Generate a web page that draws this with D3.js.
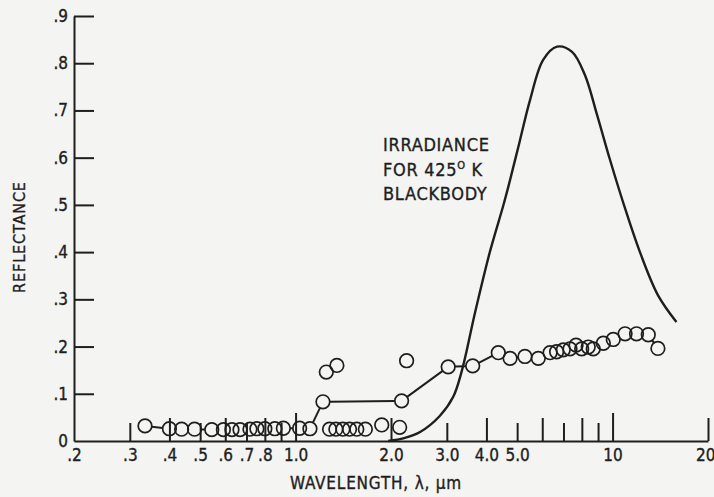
<!DOCTYPE html>
<meta charset="utf-8">
<style>
body { margin: 0; background: #f4f4f2; }
svg { display: block; }
text { font-family: "DejaVu Sans Condensed", "DejaVu Sans", sans-serif; font-stretch: condensed; fill: #1e1e1e; stroke: #1e1e1e; stroke-width: 0.35px; }
.axis path, .axis line { stroke: #1e1e1e; stroke-width: 2; }
</style>
<body>
<div id="chart"></div>
<script src="https://d3js.org/d3.v7.min.js"></script>
<script>
// reflectance, connected series (wavelength in um)
var mainWave = [0.335, 0.40, 0.437, 0.48, 0.544, 0.592, 0.63, 0.668, 0.718, 0.755, 0.80, 0.86, 0.915, 1.03, 1.11,
  1.22, 2.16, 3.03, 3.62, 4.36, 4.75, 5.29, 5.83, 6.35, 6.66, 6.99, 7.34, 7.67, 7.99, 8.38, 8.69, 9.35, 10.05,
  10.95, 11.9, 12.96, 13.9];
var mainRefl = [0.032, 0.026, 0.025, 0.025, 0.024, 0.024, 0.024, 0.024, 0.025, 0.026, 0.026, 0.026, 0.027, 0.027, 0.026,
  0.083, 0.085, 0.157, 0.159, 0.187, 0.175, 0.179, 0.175, 0.187, 0.189, 0.193, 0.195, 0.203, 0.195, 0.199, 0.195, 0.207, 0.215,
  0.227, 0.227, 0.225, 0.196];

// loose points, not joined
var looseWave = [1.28, 1.34, 1.41, 1.48, 1.56, 1.66, 1.87, 2.13, 1.25, 1.35, 2.24];
var looseRefl = [0.025, 0.025, 0.025, 0.025, 0.025, 0.025, 0.034, 0.029, 0.146, 0.160, 0.170];

// 425 K blackbody irradiance curve
var bbWave = [1.96, 2.2, 2.47, 2.85, 3.14, 3.35, 3.68, 4.1, 4.51, 4.68, 5.1, 5.49, 6.04, 6.68, 7.45, 8.18, 8.93, 9.82, 10.86, 12.2, 13.9, 15.9];
var bbIrr  = [0, 0.006, 0.019, 0.053, 0.093, 0.15, 0.271, 0.40, 0.496, 0.536, 0.636, 0.722, 0.807, 0.835, 0.824, 0.775, 0.691, 0.595, 0.50, 0.40, 0.309, 0.252];

var xTickValues = [0.2, 0.3, 0.4, 0.5, 0.6, 0.7, 0.8, 0.9, 1, 2, 3, 4, 5, 6, 7, 8, 9, 10, 20];
var xTickLabels = [".2", ".3", ".4", ".5", ".6", ".7", ".8", "", "1.0", "2.0", "3.0", "4.0", "5.0", "", "", "", "", "10", "20"];
var yTickValues = [0, 0.1, 0.2, 0.3, 0.4, 0.5, 0.6, 0.7, 0.8, 0.9];
var yTickLabels = ["0", ".1", ".2", ".3", ".4", ".5", ".6", ".7", ".8", ".9"];
var noteLines = ["IRRADIANCE", "FOR 425", "BLACKBODY"];

var W = 714, H = 497;
var margin = {top: 16, right: 6, bottom: 56, left: 74};
var ink = "#1e1e1e", r = 6.8;

var svg = d3.select("#chart").append("svg").attr("width", W).attr("height", H);

var x = d3.scaleLog().domain([0.2, 20]).range([margin.left, W - margin.right]);
var y = d3.scaleLinear().domain([0, 0.9]).range([H - margin.bottom, margin.top]);

// tick height: decades long, even digits medium, odd digits short
function tickLen(v) {
  if (v === 0.2) return 0;
  var p = Math.pow(10, Math.floor(Math.log10(v) + 1e-9));
  var d = Math.round(v / p);
  if (d === 1) return 28;
  return d % 2 === 0 ? 23 : 18;
}

// blackbody curve
var bb = bbWave.map(function(d, i) { return [d, bbIrr[i]]; });
svg.append("path")
  .datum(bb)
  .attr("fill", "none")
  .attr("stroke", ink)
  .attr("stroke-width", 2.4)
  .attr("d", d3.line()
    .x(function(d) { return x(d[0]); })
    .y(function(d) { return y(d[1]); })
    .curve(d3.curveCatmullRom.alpha(0.5)));

// connecting segments, stopped at circle edges
var pts = mainWave.map(function(d, i) { return [x(d), y(mainRefl[i])]; });
for (var i = 1; i < pts.length; i++) {
  var a = pts[i - 1], b = pts[i];
  var dx = b[0] - a[0], dy = b[1] - a[1], len = Math.sqrt(dx * dx + dy * dy);
  if (len <= 2 * r) continue;
  var ux = dx / len, uy = dy / len;
  svg.append("line")
    .attr("x1", a[0] + ux * r).attr("y1", a[1] + uy * r)
    .attr("x2", b[0] - ux * r).attr("y2", b[1] - uy * r)
    .attr("stroke", ink).attr("stroke-width", 2);
}

var allPts = mainWave.map(function(d, i) { return [d, mainRefl[i]]; })
  .concat(looseWave.map(function(d, i) { return [d, looseRefl[i]]; }));
svg.selectAll(".pt")
  .data(allPts)
  .enter().append("circle")
  .attr("class", "pt")
  .attr("cx", function(d) { return x(d[0]); })
  .attr("cy", function(d) { return y(d[1]); })
  .attr("r", r)
  .attr("fill", "none")
  .attr("stroke", ink)
  .attr("stroke-width", 1.7);

// axes
var xAxis = svg.append("g")
  .attr("class", "axis")
  .attr("transform", "translate(0," + y(0) + ")")
  .call(d3.axisBottom(x)
    .tickValues(xTickValues)
    .tickFormat(function(d, i) { return xTickLabels[i]; })
    .tickSize(-20).tickSizeOuter(0).tickPadding(8));
xAxis.selectAll(".tick line").attr("y2", function(d) { return -tickLen(d); });
xAxis.selectAll("text").style("font-size", "17px");
xAxis.selectAll(".tick").filter(function(d) { return d === 20; }).select("text")
  .attr("text-anchor", "end").attr("x", 7);

var yAxis = svg.append("g")
  .attr("class", "axis")
  .attr("transform", "translate(" + x(0.2) + ",0)")
  .call(d3.axisLeft(y)
    .tickValues(yTickValues)
    .tickFormat(function(d, i) { return yTickLabels[i]; })
    .tickSize(-20).tickSizeOuter(0).tickPadding(6));
yAxis.selectAll("text").style("font-size", "17px");
yAxis.selectAll(".tick").filter(function(d) { return d === 0; }).select("line").remove();

// titles
svg.append("text")
  .attr("x", 376).attr("y", 489)
  .attr("text-anchor", "middle")
  .style("font-size", "17px")
  .style("letter-spacing", "0.8px")
  .text("WAVELENGTH, \u03bb, \u03bcm");

svg.append("text")
  .attr("transform", "translate(25,237) rotate(-90)")
  .attr("text-anchor", "middle")
  .style("font-size", "16px")
  .style("letter-spacing", "0.9px")
  .text("REFLECTANCE");

// annotation
var note = svg.append("text").style("font-size", "18px").style("letter-spacing", "0.7px");
note.append("tspan").attr("x", 383).attr("y", 151).text(noteLines[0]);
note.append("tspan").attr("x", 383).attr("y", 176).text(noteLines[1]);
note.append("tspan").attr("dy", -7).style("font-size", "11px").text("O");
note.append("tspan").attr("dy", 7).text(" K");
note.append("tspan").attr("x", 383).attr("y", 200).text(noteLines[2]);
</script>
</body>
